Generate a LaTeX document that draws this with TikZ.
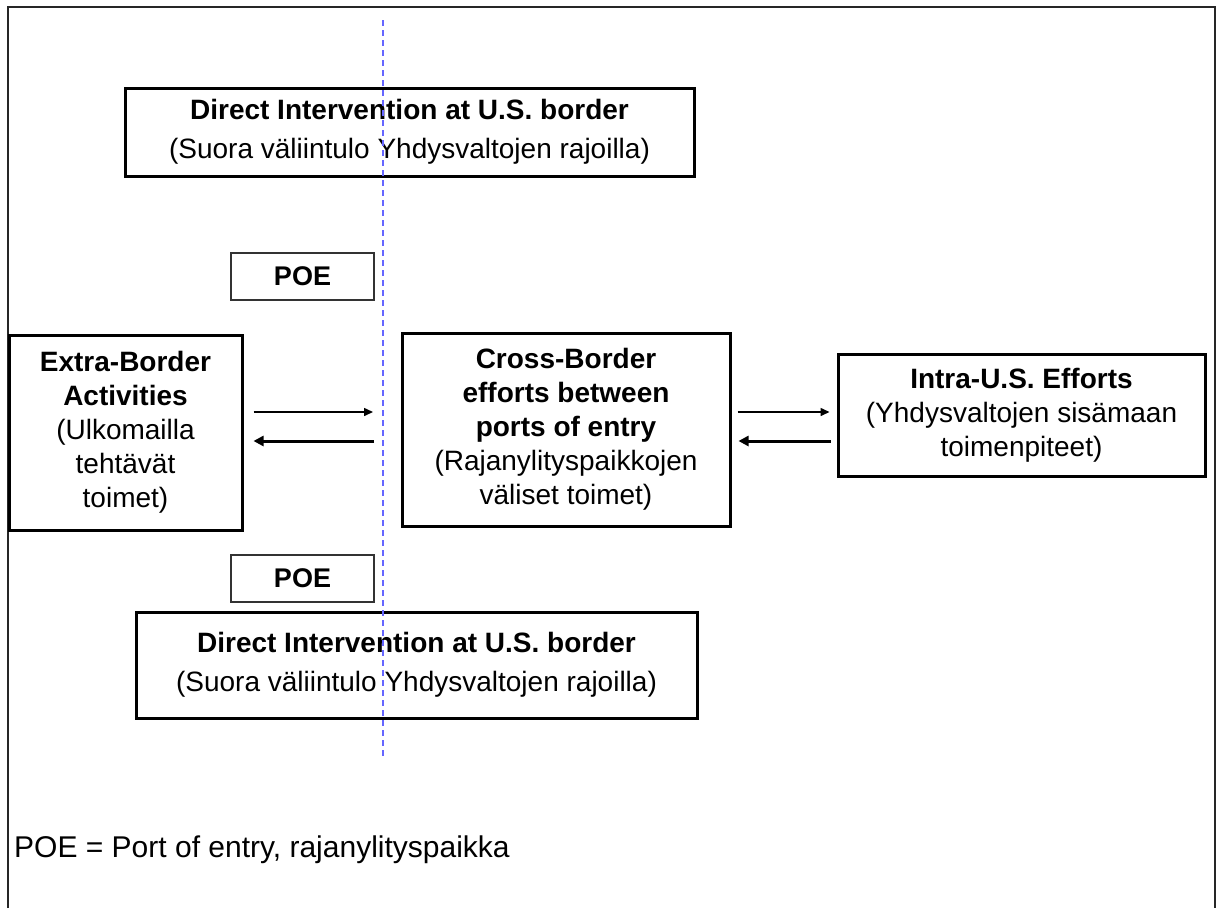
\documentclass[tikz,border=0pt]{standalone}
\usepackage{fontspec}
\setmainfont{Liberation Sans}
\usetikzlibrary{arrows.meta}
\tikzset{
  bigbox/.style={draw=black, line width=3pt, align=center, inner sep=0pt,
    font=\fontsize{28}{34}\selectfont},
  dibox/.style={bigbox, font=\fontsize{28}{39}\selectfont},
  poebox/.style={draw=black!80, line width=1.2pt, align=center, inner sep=0pt,
    font=\fontsize{27}{34}\selectfont\bfseries},
  thinarr/.style={line width=1.5pt, -{Triangle[length=9pt,width=8pt]}},
  thickarr/.style={line width=3pt, -{Triangle[length=10pt,width=10pt]}},
  border/.style={draw=blue!60, line width=1.3pt, dash pattern=on 6pt off 4pt},
}
\begin{document}
\begin{tikzpicture}[x=1pt,y=-1pt]
\useasboundingbox (0,0) rectangle (1223,908);
\fill[white] (0,0) rectangle (1223,908);
% outer frame
\draw[line width=2pt, black!85] (8,908) -- (8,7) -- (1215,7) -- (1215,908);

% boxes
\node[dibox, minimum width=569pt, minimum height=88pt] (topdi) at (409.5,132)
  {\textbf{Direct Intervention at U.S. border}\\(Suora väliintulo Yhdysvaltojen rajoilla)};
\node[poebox, minimum width=143pt, minimum height=47pt] (poetop) at (302.5,276.5) {POE};
\node[bigbox, minimum width=233pt, minimum height=195pt] (extra) at (125.5,432.5)
  {\textbf{Extra-Border}\\\textbf{Activities}\\(Ulkomailla\\tehtävät\\toimet)};
\node[bigbox, minimum width=328pt, minimum height=193pt] (cross) at (566,429.5)
  {\textbf{Cross-Border}\\\textbf{efforts between}\\\textbf{ports of entry}\\(Rajanylityspaikkojen\\väliset toimet)};
\node[bigbox, minimum width=367pt, minimum height=122pt] (intra) at (1021.5,415)
  {\textbf{Intra-U.S. Efforts}\\(Yhdysvaltojen sisämaan\\toimenpiteet)};
\node[poebox, minimum width=143pt, minimum height=47pt] (poebot) at (302.5,578.5) {POE};
\node[dibox, minimum width=561pt, minimum height=106pt] (botdi) at (416.5,665)
  {\textbf{Direct Intervention at U.S. border}\\(Suora väliintulo Yhdysvaltojen rajoilla)};

% border line
\coordinate (btop) at (383,20);
\coordinate (bbot) at (383,757);
\draw[border] (btop) -- (bbot);

% arrows
\coordinate (lA) at (373,412);
\coordinate (lB) at (374,441);
\draw[thinarr] ([xshift=10pt]extra.east |- lA) -- (lA);
\draw[thickarr] (lB) -- ([xshift=10pt]extra.east |- lB);
\draw[thinarr] ([xshift=6pt]cross.east |- lA) -- ([xshift=-7pt]intra.west |- lA);
\draw[thickarr] ([xshift=-6pt]intra.west |- lB) -- ([xshift=7pt]cross.east |- lB);

% footnote
\node[anchor=west, inner sep=0pt, font=\fontsize{30}{34}\selectfont] (note) at (14,850)
  {POE = Port of entry, rajanylityspaikka};
\end{tikzpicture}
\end{document}
